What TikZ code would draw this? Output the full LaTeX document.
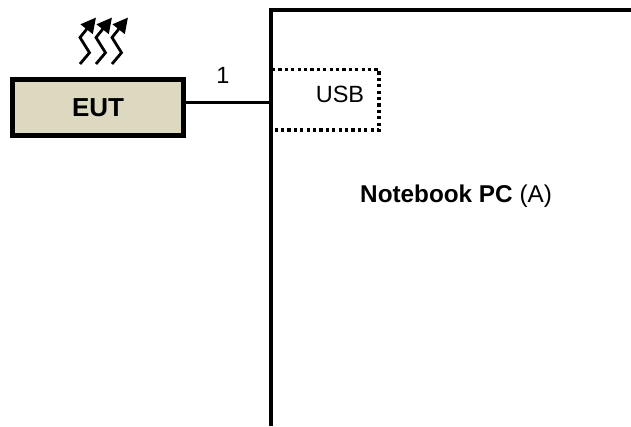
\documentclass[tikz,border=0pt]{standalone}
\usepackage{fontspec}
\setmainfont{Liberation Sans}
\usetikzlibrary{arrows.meta}
\tikzset{
  x=1pt,y=-1pt,
  heavy/.style={draw=black,line width=4pt},
  wire/.style={draw=black,line width=3.4pt},
  dotbox/.style={draw=black,line width=3.4pt,dash pattern=on 3.2pt off 3.2pt},
  eutbox/.style={draw=black,line width=4.6pt,fill=eutfill,minimum width=170.5pt,minimum height=55.5pt,inner sep=0pt,font=\fontsize{26}{30}\selectfont\bfseries},
  label/.style={inner sep=0pt,font=\fontsize{23.5}{28}\selectfont},
  zig/.style={draw=black,line width=2.8pt,-{Triangle[length=15pt,width=15pt]}}
}
\definecolor{eutfill}{HTML}{DDD8C0}
\begin{document}
\begin{tikzpicture}
\useasboundingbox (0,0) rectangle (631,426);
\node[eutbox] (eut) at (98,107.5) {EUT};
\coordinate (pcbl) at (271,426);
\coordinate (pctl) at (271,10);
\coordinate (pctr) at (631,10);
\coordinate (port) at (271,102.5);
\draw[heavy,line join=miter] (pcbl) -- (pctl) -- (pctr);
\draw[wire] (eut.east |- port) -- (port);
\draw[dotbox] (272,69.5) -- (379,69.5) -- (379,130) -- (272,130);
\node[label] (n1) at (223,75) {1};
\node[label] (usb) at (340,94) {USB};
\node[label,anchor=west] (pc) at (360,196) {\fontsize{24.3}{28}\selectfont\textbf{Notebook PC} (A)};
\foreach \d in {0,16,32}{
  \draw[zig] (80+\d,64) -- (89.5+\d,52.7) -- (80+\d,37.5) -- (96+\d,17.5);
}
\end{tikzpicture}
\end{document}
